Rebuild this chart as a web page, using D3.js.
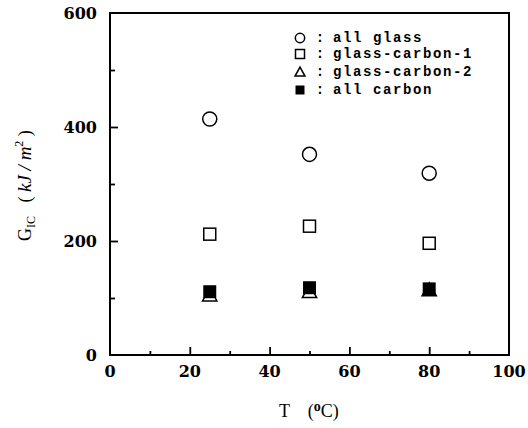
<!DOCTYPE html>
<html><head><meta charset="utf-8">
<script src="https://cdn.jsdelivr.net/npm/d3@7"></script>
<style>body{margin:0;background:#fff} text{white-space:pre}</style>
</head><body>
<svg id="c" width="528" height="428"></svg>
<script>
const temps = [25, 50, 80];
const allGlass = [414, 352, 319];
const glassCarbon1 = [212, 226, 196];
const glassCarbon2 = [105, 111, 114];
const allCarbon = [111, 118, 116];
const xTicks = [0, 20, 40, 60, 80, 100];
const yTicks = [0, 200, 400, 600];
const legendLabels = ["all glass", "glass-carbon-1", "glass-carbon-2", "all carbon"];

const svg = d3.select("#c");
const L = 110, R = 509, T = 13, B = 355;
const x = d3.scaleLinear().domain([0, 100]).range([L, R]);
const y = d3.scaleLinear().domain([0, 600]).range([B, T]);
const serif = "'DejaVu Serif', 'Liberation Serif', serif";
const tserif = "'Liberation Serif', 'DejaVu Serif', serif";
const mono = "'Liberation Mono', 'DejaVu Sans Mono', monospace";

// frame
svg.append("rect").attr("x", L).attr("y", T).attr("width", R - L).attr("height", B - T)
  .attr("fill", "none").attr("stroke", "#000").attr("stroke-width", 2);

// ticks inward
const xa = svg.append("g").attr("transform", `translate(0,${B})`)
  .call(d3.axisBottom(x).tickValues(d3.range(10, 100, 10)).tickSize(0).tickFormat(""));
xa.select(".domain").remove();
xa.selectAll(".tick line").attr("y2", d => d % 20 === 0 ? -8 : -4).attr("stroke-width", 1.8);
const ya = svg.append("g").attr("transform", `translate(${L},0)`)
  .call(d3.axisLeft(y).tickValues(d3.range(100, 600, 100)).tickSize(0).tickFormat(""));
ya.select(".domain").remove();
ya.selectAll(".tick line").attr("x2", d => d % 200 === 0 ? 8 : 5).attr("stroke-width", 1.8);

// tick labels
svg.append("g").selectAll("text").data(xTicks).join("text")
  .attr("x", d => x(d)).attr("y", B + 22).attr("text-anchor", "middle")
  .attr("font-family", serif).attr("font-weight", "bold").attr("font-size", 16)
  .text(d => d);
svg.append("g").selectAll("text").data(yTicks).join("text")
  .attr("x", L - 13).attr("y", d => y(d) + 5.5).attr("text-anchor", "end")
  .attr("font-family", serif).attr("font-weight", "bold").attr("font-size", 16)
  .text(d => d);

// axis titles
const xt = svg.append("text").attr("x", 279).attr("y", 417)
  .attr("font-family", tserif).attr("font-size", 18);
xt.append("tspan").text("T    (");
xt.append("tspan").attr("font-weight", "bold").attr("font-size", 14).attr("dy", -6).text("o");
xt.append("tspan").attr("dy", 6).text("C)");

const yt = svg.append("text").attr("transform", "translate(31,241) rotate(-90)")
  .attr("font-family", tserif).attr("font-size", 18);
yt.append("tspan").text("G");
yt.append("tspan").attr("font-size", 12).attr("dy", 4).text("IC");
yt.append("tspan").attr("dy", -4).text("   ( ");
yt.append("tspan").attr("font-style", "italic").attr("font-size", 19).text("kJ / m");
yt.append("tspan").attr("font-size", 12).attr("dy", -8).text("2");
yt.append("tspan").attr("dy", 8).text(" )");

// markers
function drawShape(g, k, cx, cy, s) {
  if (k === "circle") g.append("circle").attr("cx", cx).attr("cy", cy).attr("r", s * 0.52)
    .attr("fill", "#fff").attr("stroke", "#000").attr("stroke-width", 1.5);
  else if (k === "square") g.append("rect").attr("x", cx - s / 2).attr("y", cy - s / 2).attr("width", s).attr("height", s)
    .attr("fill", "#fff").attr("stroke", "#000").attr("stroke-width", 1.5);
  else if (k === "triangle") g.append("path")
    .attr("d", `M${cx},${cy - s * 0.55}L${cx + s * 0.55},${cy + s * 0.45}L${cx - s * 0.55},${cy + s * 0.45}Z`)
    .attr("fill", "#fff").attr("stroke", "#000").attr("stroke-width", 1.5);
  else g.append("rect").attr("x", cx - s / 2).attr("y", cy - s / 2).attr("width", s).attr("height", s).attr("fill", "#000");
}
const seriesList = [[allGlass, "circle", 13.5], [glassCarbon1, "square", 12], [glassCarbon2, "triangle", 13], [allCarbon, "filled", 13]];
seriesList.forEach(([vals, k, s]) => {
  const g = svg.append("g");
  temps.forEach((t, i) => drawShape(g, k, x(t), y(vals[i]), s));
});

// legend
const kinds = ["circle", "square", "triangle", "filled"];
const legendRows = [38, 54, 72, 90];
const lg = svg.append("g");
legendLabels.forEach((lab, i) => {
  const cy = legendRows[i];
  drawShape(lg, kinds[i], 300, cy, 9);
  lg.append("text").attr("x", 320).attr("y", cy + 4).attr("text-anchor", "middle")
    .attr("font-family", mono).attr("font-weight", "bold").attr("font-size", 14).text(":");
  lg.append("text").attr("x", 333).attr("y", cy + 4)
    .attr("font-family", mono).attr("font-weight", "bold").attr("font-size", 14)
    .attr("letter-spacing", 1.6).text(lab);
});
</script>
</body></html>
